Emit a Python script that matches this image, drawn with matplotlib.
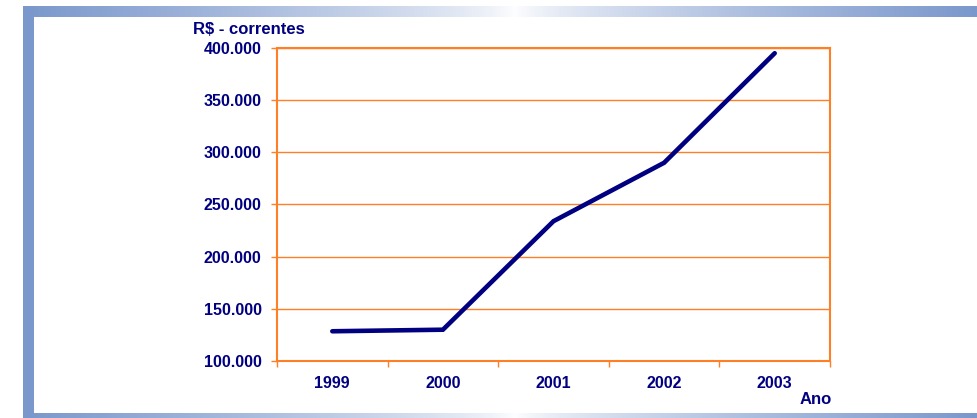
import numpy as np
import matplotlib
matplotlib.use("Agg")
import matplotlib.pyplot as plt
from matplotlib.ticker import FuncFormatter, FixedLocator

# data
anos = ["1999", "2000", "2001", "2002", "2003"]
valores = [128500, 130000, 234000, 290000, 395000]
y_ticks = [100000, 150000, 200000, 250000, 300000, 350000, 400000]

NAVY = "#000080"
ORANGE = "#FF7F27"
FRAME_BLUE = np.array([123, 152, 204]) / 255.0

W, H = 978, 418
fig = plt.figure(figsize=(W / 100, H / 100), dpi=100)
fig.patch.set_facecolor("white")

# background frame (gradient bars on top / bottom, solid bar on the left)
bg = fig.add_axes([0, 0, 1, 1], zorder=0)
bg.set_xlim(0, W)
bg.set_ylim(H, 0)
bg.axis("off")

def grad_bar(x0, x1, y0, y1, center=515):
    xs = np.linspace(x0, x1, 400)
    t = np.where(xs < center, (center - xs) / (center - x0), (xs - center) / (x1 - center))
    t = np.clip(t, 0, 1) ** 0.7
    img = 1 - t[None, :, None] * (1 - FRAME_BLUE[None, None, :])
    bg.imshow(img, extent=(x0, x1, y1, y0), aspect="auto", interpolation="bilinear")

grad_bar(23, W, 6, 17)
grad_bar(23, W, 413, 418)
bg.add_patch(plt.Rectangle((23, 6), 11, 412, color=FRAME_BLUE, lw=0))

# main chart
left, right, top, bottom = 277, 830, 48, 361
ax = fig.add_axes([left / W, (H - bottom) / H, (right - left) / W, (bottom - top) / H], zorder=1)
ax.set_facecolor("none")

x = np.arange(len(anos))
ax.plot(x, valores, color=NAVY, lw=3.3, solid_capstyle="round", solid_joinstyle="miter", zorder=3)

ax.set_xlim(-0.5, len(anos) - 0.5)
ax.set_ylim(100000, 400000)

ax.set_yticks(y_ticks)
ax.yaxis.set_major_formatter(FuncFormatter(lambda v, p: f"{int(v):,}".replace(",", ".")))
ax.grid(axis="y", color=ORANGE, lw=1, zorder=1)

ax.xaxis.set_major_locator(FixedLocator(np.arange(-0.5, len(anos), 1.0)))
ax.xaxis.set_major_formatter(FuncFormatter(lambda v, p: ""))
ax.set_xticks(x, minor=True)
ax.set_xticklabels(anos, minor=True)

for s in ax.spines.values():
    s.set_color(ORANGE)
    s.set_linewidth(1.5)

ax.tick_params(axis="y", which="major", length=4, width=1, color=ORANGE, pad=7,
               labelcolor=NAVY, labelsize=11.5)
ax.tick_params(axis="x", which="major", length=4, width=1, color=ORANGE)
ax.tick_params(axis="x", which="minor", length=0, pad=11, labelcolor=NAVY, labelsize=11.5)

for lab in ax.get_yticklabels() + ax.get_xticklabels(minor=True):
    lab.set_fontweight("bold")
    lab.set_fontfamily("Liberation Sans")

fig.text(193 / W, 1 - 30 / H, "R$ - correntes", ha="left", va="center", color=NAVY,
         fontsize=12, fontweight="bold", family="Liberation Sans")
fig.text(832 / W, 1 - 399 / H, "Ano", ha="right", va="center", color=NAVY,
         fontsize=12, fontweight="bold", family="Liberation Sans")

fig.savefig("out.png", dpi=100)
